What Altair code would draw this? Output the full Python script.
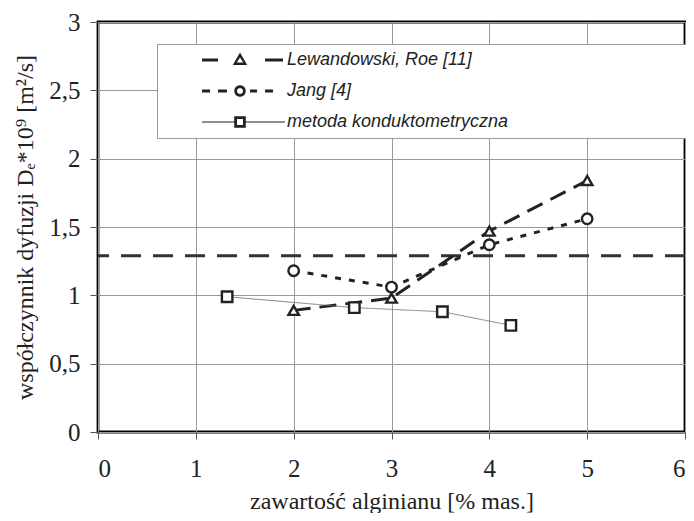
import math
import altair as alt
import pandas as pd

# ---- data ----
series_names = ["Lewandowski, Roe [11]", "Jang [4]", "metoda konduktometryczna"]
lew_x = [2, 3, 4, 5]
lew_y = [0.89, 0.98, 1.47, 1.84]
jang_x = [2, 3, 4, 5]
jang_y = [1.18, 1.06, 1.37, 1.56]
kond_x = [1.32, 2.62, 3.52, 4.22]
kond_y = [0.99, 0.91, 0.88, 0.78]
ref_level = [1.29]
x_ticks = [0, 1, 2, 3, 4, 5, 6]
y_ticks = [0, 0.5, 1, 1.5, 2, 2.5, 3]

rows = []
for name, xs, ys in zip(series_names, [lew_x, jang_x, kond_x], [lew_y, jang_y, kond_y]):
    for xv, yv in zip(xs, ys):
        rows.append({"series": name, "x": xv, "y": yv})
df = pd.DataFrame(rows)
ref_df = pd.DataFrame({"y": ref_level})

# alphabetical order (default domain order) used by the marks' own scales
alpha = sorted(series_names)
shape_of = {series_names[0]: "triangle-up", series_names[1]: "circle", series_names[2]: "square"}
dash_of = {series_names[0]: [17, 9], series_names[1]: [6, 8], series_names[2]: [1, 0]}

# ---- custom legend symbols (line + marker), built as filled paths ----
R = 4.0     # px per symbol unit (sqrt(symbolSize)/2)
MC = 67.0   # marker centre offset from symbol centre, px


def fx(v):
    return f"{(v + MC) / R:.3f}"


def fy(v):
    return f"{v / R:.3f}"


def rect(x1, x2, h):
    return f"M{fx(x1)},{fy(-h/2)}H{fx(x2)}V{fy(h/2)}H{fx(x1)}Z"


def poly(pts):
    return "M" + " L".join(f"{fx(a)},{fy(b)}" for a, b in pts) + "Z"


def circle_pts(r, n=20, rev=False):
    pts = [(r * math.cos(2 * math.pi * k / n), r * math.sin(2 * math.pi * k / n)) for k in range(n)]
    return pts[::-1] if rev else pts


path_lew = (rect(-38, -22, 3.2) + rect(25, 43, 3.2)
            + poly([(0, -7.5), (7.2, 5), (-7.2, 5)])
            + poly([(0, -2.6), (-3.2, 2.5), (3.2, 2.5)]))
path_jang = (rect(-38, -30, 3.2) + rect(-22, -13, 3.2) + rect(10, 17, 3.2) + rect(25, 33, 3.2)
             + poly(circle_pts(5.8)) + poly(circle_pts(3.0, rev=True)))
path_kond = (rect(-38, -5.5, 1) + rect(5.5, 45, 1)
             + poly([(-5.8, -5.8), (5.8, -5.8), (5.8, 5.8), (-5.8, 5.8)])
             + poly([(-3, -3), (-3, 3), (3, 3), (3, -3)]))

shape_signal = (f"datum.value === '{series_names[0]}' ? '{path_lew}' : "
                f"datum.value === '{series_names[1]}' ? '{path_jang}' : '{path_kond}'")

dark = "#222222"
serif = "Liberation Serif"

xscale = alt.Scale(domain=[0, 6], nice=False)
yscale = alt.Scale(domain=[0, 3], nice=False)

x_enc = alt.X("x:Q", scale=xscale,
              axis=alt.Axis(values=x_ticks, format="d", title="zawartość alginianu [% mas.]",
                            titlePadding=8, labelPadding=17, tickSize=7))
y_enc = alt.Y("y:Q", scale=yscale,
              axis=alt.Axis(values=y_ticks, title="współczynnik dyfuzji Dₑ*10⁹ [m²/s]",
                            titlePadding=11, labelPadding=10, tickSize=8,
                            labelExpr="replace(format(datum.value, '~g'), '.', ',')"))

ref_rule = alt.Chart(ref_df).mark_rule(
    color="#333333", strokeWidth=3, strokeDash=[20, 12]
).encode(y=alt.Y("y:Q", scale=yscale))

lines = alt.Chart(df).mark_line().encode(
    x=x_enc,
    y=y_enc,
    detail="series:N",
    strokeDash=alt.StrokeDash("series:N", legend=None,
                              scale=alt.Scale(range=[dash_of[s] for s in alpha])),
    color=alt.condition(f"datum.series == '{series_names[2]}'", alt.value("#666666"), alt.value(dark)),
    strokeWidth=alt.condition(f"datum.series == '{series_names[2]}'", alt.value(0.8), alt.value(3)),
)

points = alt.Chart(df).mark_point(
    filled=True, fill="white", stroke=dark, strokeWidth=2.4, size=110, opacity=1
).encode(
    x="x:Q",
    y="y:Q",
    shape=alt.Shape("series:N", legend=None,
                    scale=alt.Scale(range=[shape_of[s] for s in alpha])),
)

legend_common = dict(
    title=None, orient="none", legendX=59, legendY=22, padding=7,
    labelFont="Liberation Sans", labelFontStyle="italic", labelFontSize=18,
    labelColor=dark, labelLimit=500,
    symbolSize=64, rowPadding=13, symbolStrokeWidth=0, symbolFillColor=dark,
)

# legend A: only the white, grey-edged box (symbols and labels hidden;
# its label offset is what widens the box)
legend_box_layer = alt.Chart(df).mark_point(filled=True, opacity=0).encode(
    x="x:Q",
    y="y:Q",
    color=alt.Color(
        "series:N",
        scale=alt.Scale(domain=series_names, range=[dark, dark, dark]),
        legend=alt.Legend(
            strokeColor="#999999", fillColor="white", symbolOpacity=0, symbolType="circle",
            labelOpacity=0, labelOffset=301,
            **legend_common,
        ),
    ),
)

# legend B: line + marker symbols and the labels, drawn on top of the box
legend_sym_layer = alt.Chart(df).mark_point(filled=True, opacity=0).encode(
    x="x:Q",
    y="y:Q",
    fill=alt.Fill(
        "series:N", sort=series_names,
        scale=alt.Scale(range=[dark, dark, dark]),
        legend=alt.Legend(
            symbolOpacity=1, zindex=2, labelOffset=105,
            symbolType={"expr": shape_signal},
            **legend_common,
        ),
    ),
)

chart = alt.layer(ref_rule, lines, points, legend_box_layer, legend_sym_layer).properties(
    width=587, height=410,
    autosize=alt.AutoSizeParams(type="none"),
    padding={"left": 90, "top": 14, "right": 1, "bottom": 81},
).configure_view(
    stroke="black", strokeWidth=2.8
).configure_axis(
    domain=False, grid=True, gridColor="#999999", gridWidth=1,
    tickColor="#555555", tickWidth=1,
    labelFont=serif, labelFontSize=25, labelColor=dark,
    titleFont=serif, titleFontSize=24, titleFontWeight="normal", titleColor=dark,
)

chart.save("out.html", embed_options={"renderer": "svg", "actions": False})
